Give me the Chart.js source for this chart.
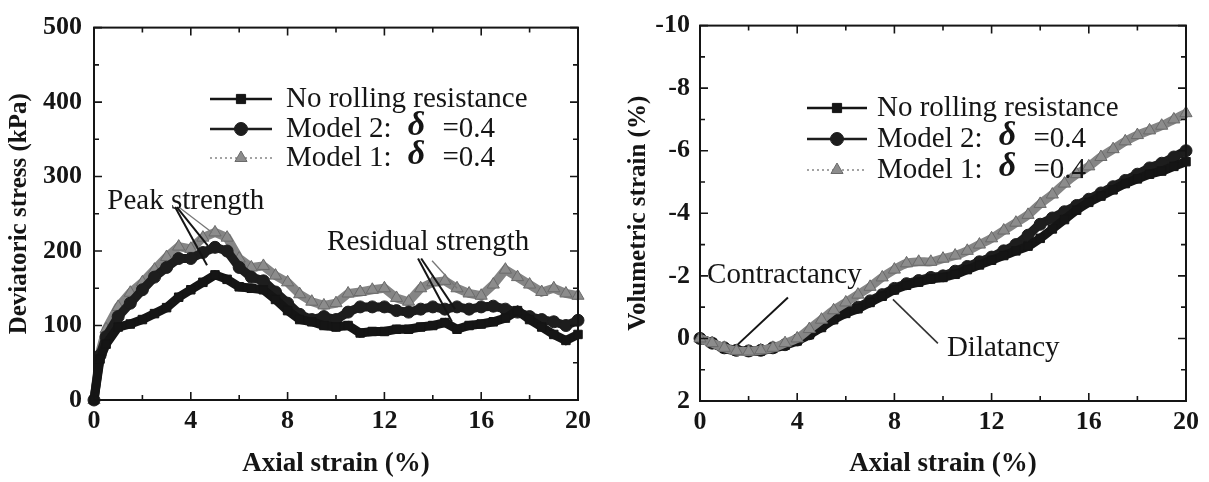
<!DOCTYPE html>
<html>
<head>
<meta charset="utf-8">
<script src="https://cdn.jsdelivr.net/npm/chart.js@4.4.1/dist/chart.umd.min.js"></script>
<style>
  html, body { margin: 0; padding: 0; background: #fff; }
  #wrap { position: relative; width: 1209px; height: 482px; overflow: hidden; }
  #left { position: absolute; left: 0; top: 0; }
  #right { position: absolute; left: 604px; top: 0; }
</style>
</head>
<body>
<div id="wrap">
  <canvas id="left" width="604" height="482"></canvas>
  <canvas id="right" width="605" height="482"></canvas>
</div>
<script>
// series labels (legend)
const seriesNames = ['No rolling resistance', 'Model 2: δ =0.4', 'Model 1: δ =0.4'];

// axial strain (%) for the stress curves
const strainQ = [0, 0.25, 0.5, 1, 1.5, 2, 2.5, 3, 3.5, 4, 4.5, 5, 5.5, 6, 6.5, 7, 7.5, 8, 8.5, 9, 9.5,
  10, 10.5, 11, 11.5, 12, 12.5, 13, 13.5, 14, 14.5, 15, 15.5, 16, 16.5, 17, 17.5, 18, 18.5, 19, 19.5, 20];
// deviatoric stress (kPa)
const qNoRolling = [0, 55, 75, 98, 102, 108, 116, 124, 138, 148, 158, 168, 162, 152, 150, 148, 135, 120, 108, 105, 100,
  98, 100, 90, 92, 92, 95, 95, 98, 100, 104, 95, 100, 102, 105, 110, 120, 108, 98, 88, 80, 88];
const qModel2 = [0, 60, 85, 112, 130, 148, 165, 178, 190, 190, 198, 205, 200, 178, 165, 160, 145, 130, 115, 108, 112,
  108, 118, 125, 125, 125, 120, 118, 122, 125, 122, 125, 122, 125, 126, 122, 118, 112, 108, 105, 100, 107];
const qModel1 = [0, 65, 95, 125, 144, 158, 175, 192, 206, 203, 218, 225, 218, 190, 178, 180, 167, 158, 142, 132, 127,
  130, 143, 145, 148, 150, 137, 132, 150, 158, 160, 150, 143, 140, 155, 175, 165, 155, 145, 150, 143, 140];

// axial strain (%) for the volumetric curves
const strainV = [0, 0.5, 1, 1.5, 2, 2.5, 3, 3.5, 4, 4.5, 5, 5.5, 6, 6.5, 7, 7.5, 8, 8.5, 9, 9.5,
  10, 10.5, 11, 11.5, 12, 12.5, 13, 13.5, 14, 14.5, 15, 15.5, 16, 16.5, 17, 17.5, 18, 18.5, 19, 19.5, 20];
// volumetric strain (%)
const vNoRolling = [0, 0.15, 0.32, 0.4, 0.42, 0.4, 0.32, 0.22, 0.08, -0.12, -0.35, -0.6, -0.8, -0.95, -1.15, -1.35, -1.55, -1.7, -1.8, -1.9,
  -1.95, -2.05, -2.2, -2.35, -2.5, -2.65, -2.8, -2.95, -3.2, -3.5, -3.8, -4.1, -4.35, -4.55, -4.75, -4.95, -5.1, -5.25, -5.35, -5.5, -5.65];
const vModel2 = [0, 0.15, 0.3, 0.38, 0.4, 0.38, 0.3, 0.2, 0.05, -0.15, -0.4, -0.65, -0.85, -1.0, -1.2, -1.4, -1.6, -1.75, -1.85, -1.95,
  -2.0, -2.15, -2.3, -2.45, -2.6, -2.8, -3.0, -3.3, -3.65, -3.85, -4.05, -4.25, -4.45, -4.65, -4.85, -5.05, -5.25, -5.45, -5.6, -5.8, -6.0];
const vModel1 = [0, 0.15, 0.3, 0.4, 0.42, 0.38, 0.3, 0.15, 0, -0.3, -0.6, -0.9, -1.15, -1.4, -1.65, -1.95, -2.2, -2.4, -2.45, -2.45,
  -2.55, -2.65, -2.8, -3.0, -3.2, -3.45, -3.7, -3.95, -4.3, -4.6, -4.95, -5.25, -5.5, -5.8, -6.05, -6.3, -6.5, -6.65, -6.8, -7.0, -7.2];

const SERIF = '"Liberation Serif", "Times New Roman", serif';
const INK = '#151515';
const GREY = '#858585';

function pts(xs, ys) {
  return xs.map((x, i) => ({ x: x, y: ys[i] }));
}

const styles = [
  { borderColor: INK, pointBackgroundColor: INK, pointBorderColor: INK, pointStyle: 'rect', pointRadius: 6, legendLine: [] },
  { borderColor: '#1d1d1d', pointBackgroundColor: '#1d1d1d', pointBorderColor: '#1d1d1d', pointStyle: 'circle', pointRadius: 6, legendLine: [] },
  { borderColor: GREY, pointBackgroundColor: '#8c8c8c', pointBorderColor: '#6a6a6a', pointStyle: 'triangle', pointRadius: 7, legendLine: [2, 3] }
];

// frame + inward ticks on all four sides
const framePlugin = {
  id: 'frame',
  afterDatasetsDraw(chart) {
    const { ctx, chartArea: a, scales } = chart;
    ctx.save();
    ctx.strokeStyle = INK;
    ctx.lineWidth = 2;
    ctx.strokeRect(a.left, a.top, a.right - a.left, a.bottom - a.top);
    ctx.lineWidth = 1.6;
    ['x', 'y'].forEach(id => {
      const s = scales[id];
      const vals = s.ticks.map(t => t.value);
      const marks = [];
      vals.forEach((v, i) => {
        marks.push([v, 8]);
        if (i < vals.length - 1) marks.push([(v + vals[i + 1]) / 2, 5]);
      });
      marks.forEach(([v, len]) => {
        const p = s.getPixelForValue(v);
        ctx.beginPath();
        if (id === 'x') {
          ctx.moveTo(p, a.bottom); ctx.lineTo(p, a.bottom - len);
          ctx.moveTo(p, a.top); ctx.lineTo(p, a.top + len);
        } else {
          ctx.moveTo(a.left, p); ctx.lineTo(a.left + len, p);
          ctx.moveTo(a.right, p); ctx.lineTo(a.right - len, p);
        }
        ctx.stroke();
      });
    });
    ctx.restore();
  }
};

// legend drawn inside the plot, paper style: line + marker, then label with bold italic delta
const paperLegend = {
  id: 'paperLegend',
  afterDatasetsDraw(chart, args, o) {
    const ctx = chart.ctx;
    ctx.save();
    chart.data.datasets.forEach((ds, i) => {
      const st = styles[i];
      const y = o.rows[i];
      ctx.strokeStyle = st.borderColor;
      ctx.lineWidth = i === 2 ? 1.5 : 2.5;
      ctx.setLineDash(st.legendLine);
      ctx.beginPath();
      ctx.moveTo(o.x1, y); ctx.lineTo(o.x2, y);
      ctx.stroke();
      ctx.setLineDash([]);
      ctx.fillStyle = st.pointBackgroundColor;
      ctx.strokeStyle = st.pointBorderColor;
      ctx.lineWidth = 1;
      Chart.helpers.drawPoint(ctx, { pointStyle: st.pointStyle, radius: i === 2 ? 7 : 6.5, rotation: 0, borderWidth: 1 }, (o.x1 + o.x2) / 2, y);

      ctx.fillStyle = INK;
      ctx.textBaseline = 'middle';
      ctx.textAlign = 'left';
      const parts = ds.label.split('δ');
      let x = o.tx;
      ctx.font = '29px ' + SERIF;
      ctx.fillText(parts[0], x, y);
      if (parts.length > 1) {
        x += ctx.measureText(parts[0]).width + 9;
        ctx.font = 'italic bold 34px ' + SERIF;
        ctx.fillText('δ', x, y - 3);
        x += ctx.measureText('δ').width + 10;
        ctx.font = '29px ' + SERIF;
        ctx.fillText(parts[1], x, y);
      }
    });
    ctx.restore();
  }
};

// text notes with leader lines, placed in data units
const notesPlugin = {
  id: 'notes',
  afterDatasetsDraw(chart, args, o) {
    const { ctx, scales: { x, y } } = chart;
    ctx.save();
    o.lines.forEach(l => {
      ctx.strokeStyle = l.color;
      ctx.lineWidth = l.width;
      ctx.beginPath();
      ctx.moveTo(x.getPixelForValue(l.from[0]), y.getPixelForValue(l.from[1]));
      ctx.lineTo(x.getPixelForValue(l.to[0]), y.getPixelForValue(l.to[1]));
      ctx.stroke();
    });
    ctx.font = '29px ' + SERIF;
    ctx.fillStyle = INK;
    ctx.textBaseline = 'middle';
    ctx.textAlign = 'left';
    o.texts.forEach(t => {
      ctx.fillText(t.text, x.getPixelForValue(t.at[0]), y.getPixelForValue(t.at[1]));
    });
    ctx.restore();
  }
};

function makeDatasets(xs, series, tension, topIndex, width) {
  return series.map((ys, i) => Object.assign({
    label: seriesNames[i],
    data: pts(xs, ys),
    borderWidth: width,
    tension: tension,
    clip: false,
    pointBorderWidth: 1,
    order: i === topIndex ? 0 : i + 1
  }, styles[i]));
}

function axisOpts(min, max, step, title, titleSize, titlePad, pad, extra) {
  return Object.assign({
    type: 'linear',
    min: min, max: max,
    ticks: { stepSize: step, padding: pad, color: INK, font: { family: SERIF, size: 26, weight: 'bold' }, maxRotation: 0 },
    grid: { display: false, drawTicks: false },
    border: { display: false },
    title: { display: true, text: title, color: INK, font: { family: SERIF, size: titleSize, weight: 'bold' }, padding: titlePad }
  }, extra);
}

function build(id, cfg) {
  return new Chart(document.getElementById(id), {
    type: 'line',
    data: { datasets: cfg.datasets },
    options: {
      responsive: false,
      animation: false,
      layout: { padding: cfg.padding },
      plugins: {
        legend: { display: false },
        tooltip: { enabled: false },
        paperLegend: cfg.legend,
        notes: cfg.notes
      },
      scales: {
        x: axisOpts(0, 20, 4, 'Axial strain (%)', 27, { top: 0, bottom: 2 }, 6, {
          afterFit: s => { s.height = cfg.xHeight; }
        }),
        y: axisOpts(cfg.yMin, cfg.yMax, cfg.yStep, cfg.yTitle, 25, { top: cfg.yTitlePad, bottom: 0 }, cfg.yPad, {
          reverse: cfg.reverse,
          afterFit: s => { s.width = cfg.yWidth; }
        })
      }
    },
    plugins: [framePlugin, paperLegend, notesPlugin]
  });
}

build('left', {
  datasets: makeDatasets(strainQ, [qNoRolling, qModel2, qModel1], 0, 0, 9),
  padding: { top: 18, right: 26, left: 0, bottom: 0 },
  xHeight: 82, yWidth: 94, yPad: 12, yTitlePad: 5,
  yMin: 0, yMax: 500, yStep: 100, yTitle: 'Deviatoric stress (kPa)', reverse: false,
  legend: { x1: 210, x2: 272, tx: 286, rows: [99, 129, 158] },
  notes: {
    texts: [{ text: 'Peak strength', at: [0.55, 266] }, { text: 'Residual strength', at: [9.63, 212] }],
    lines: [
      { from: [3.35, 259], to: [4.67, 181], color: INK, width: 2 },
      { from: [3.42, 259], to: [4.71, 207], color: INK, width: 2 },
      { from: [3.5, 259], to: [4.88, 225], color: '#777', width: 1.3 },
      { from: [13.39, 190], to: [14.79, 105], color: INK, width: 2 },
      { from: [13.52, 190], to: [14.92, 122], color: INK, width: 2 },
      { from: [13.97, 187], to: [15.0, 150], color: '#777', width: 1.3 }
    ]
  }
});

build('right', {
  datasets: makeDatasets(strainV, [vNoRolling, vModel2, vModel1], 0.35, 2, 9),
  padding: { top: 17, right: 23, left: 0, bottom: 0 },
  xHeight: 81, yWidth: 96, yPad: 10, yTitlePad: 20,
  yMin: -10, yMax: 2, yStep: 2, yTitle: 'Volumetric strain (%)', reverse: true,
  legend: { x1: 203, x2: 263, tx: 273, rows: [108, 139, 170] },
  notes: {
    texts: [{ text: 'Contractancy', at: [0.29, -2.03] }, { text: 'Dilatancy', at: [10.16, 0.31] }],
    lines: [
      { from: [3.62, -1.31], to: [1.56, 0.19], color: INK, width: 2 },
      { from: [9.79, 0.16], to: [7.94, -1.25], color: '#333', width: 1.6 }
    ]
  }
});
</script>
</body>
</html>
